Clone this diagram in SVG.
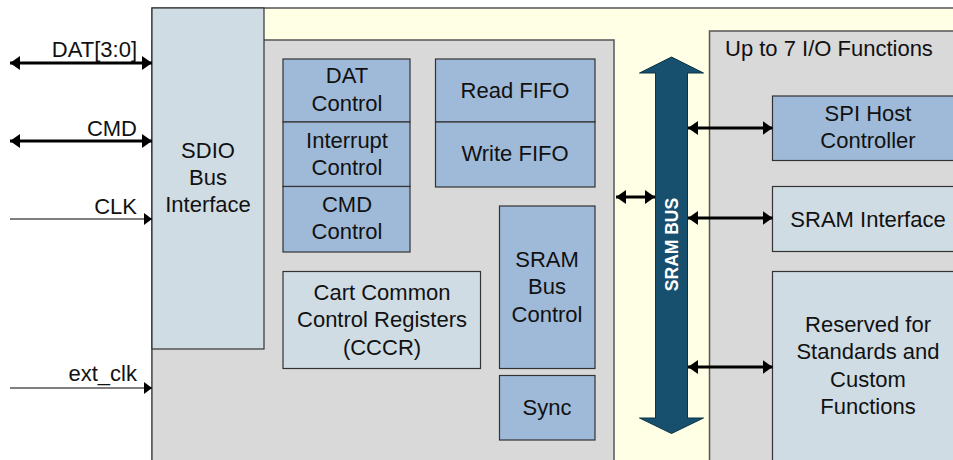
<svg xmlns="http://www.w3.org/2000/svg" width="953" height="460" viewBox="0 0 953 460">
<style>
text{font-family:"Liberation Sans",Arial,sans-serif;font-size:22px;fill:#111;text-anchor:middle}
.lbl{text-anchor:end}
.blk{stroke:#333;stroke-width:1.2}
.dk{fill:#9FBAD8}
.lt{fill:#D0DCE4}
.gr{fill:#D9D9D9;stroke:#555;stroke-width:1.5}
.thick{stroke:#000;stroke-width:3;fill:none}
.thin{stroke:#000;stroke-width:1.2;fill:none}
</style>
<defs>
<marker id="ah" viewBox="0 0 10 14" refX="10" refY="7" markerWidth="10" markerHeight="14" markerUnits="userSpaceOnUse" orient="auto-start-reverse"><path d="M0,0 L10,7 L0,14 Z" fill="#000"/></marker>
<marker id="as" viewBox="0 0 8 12" refX="8" refY="6" markerWidth="8" markerHeight="12" markerUnits="userSpaceOnUse" orient="auto"><path d="M0,0 L8,6 L0,12 Z" fill="#000"/></marker>
</defs>
<rect width="953" height="460" fill="#fff"/>
<g id="card">
<rect x="152" y="8" width="820" height="470" fill="#FFFFE5" stroke="#555" stroke-width="1.5"/>
</g>
<g id="core">
<rect class="gr" x="152" y="40" width="462" height="440"/>
</g>
<g id="sdio">
<rect class="blk lt" x="152" y="8" width="112" height="341"/>
<text x="208" y="158">SDIO</text><text x="208" y="185">Bus</text><text x="208" y="212">Interface</text>
</g>
<g id="dat-control">
<rect class="blk dk" x="283" y="59" width="127" height="63"/>
<text x="347" y="83">DAT</text><text x="347" y="111">Control</text>
</g>
<g id="int-control">
<rect class="blk dk" x="283" y="122" width="127" height="64.5"/>
<text x="347" y="148">Interrupt</text><text x="347" y="175">Control</text>
</g>
<g id="cmd-control">
<rect class="blk dk" x="283" y="186.5" width="127" height="65.5"/>
<text x="347" y="212">CMD</text><text x="347" y="239">Control</text>
</g>
<g id="read-fifo">
<rect class="blk dk" x="435.5" y="59" width="159.5" height="63"/>
<text x="515" y="98">Read FIFO</text>
</g>
<g id="write-fifo">
<rect class="blk dk" x="435.5" y="122" width="159.5" height="65"/>
<text x="515" y="161">Write FIFO</text>
</g>
<g id="cccr">
<rect class="blk lt" x="283" y="271.5" width="197.5" height="97"/>
<text x="382" y="300">Cart Common</text><text x="382" y="327">Control Registers</text><text x="382" y="355">(CCCR)</text>
</g>
<g id="sram-bus-control">
<rect class="blk dk" x="499.5" y="206" width="95.5" height="162.5"/>
<text x="547" y="267">SRAM</text><text x="547" y="294">Bus</text><text x="547" y="322">Control</text>
</g>
<g id="sync">
<rect class="blk dk" x="499.5" y="375.5" width="95.5" height="64.5"/>
<text x="547" y="415">Sync</text>
</g>
<g id="io-functions">
<rect class="gr" x="709.5" y="31" width="260" height="450"/>
<text x="725" y="56" style="text-anchor:start">Up to 7 I/O Functions</text>
</g>
<g id="spi-host">
<rect class="blk dk" x="772.5" y="96" width="200" height="64.5"/>
<text x="868" y="121">SPI Host</text><text x="868" y="148">Controller</text>
</g>
<g id="sram-interface">
<rect class="blk lt" x="772.5" y="186.5" width="200" height="65"/>
<text x="868" y="227">SRAM Interface</text>
</g>
<g id="reserved">
<rect class="blk lt" x="772.5" y="271.5" width="200" height="210"/>
<text x="868" y="332">Reserved for</text><text x="868" y="359">Standards and</text><text x="868" y="387">Custom</text><text x="868" y="414">Functions</text>
</g>
<g id="sram-bus">
<path d="M671.5,57 L703.5,73 L687.5,73 L687.5,418 L703.5,418 L671.5,433.5 L639.5,418 L655.5,418 L655.5,73 L639.5,73 Z" fill="#17506F" stroke="#0d3347" stroke-width="1"/>
<text transform="translate(677.5,244.5) rotate(-90)" style="fill:#fff;font-weight:bold;font-size:17.5px">SRAM BUS</text>
</g>
<g id="connectors">
<line class="thick" x1="10" y1="63" x2="152" y2="63" marker-start="url(#ah)" marker-end="url(#ah)"/>
<line class="thick" x1="10" y1="141" x2="152" y2="141" marker-start="url(#ah)" marker-end="url(#ah)"/>
<line class="thin" x1="10" y1="219" x2="152" y2="219" marker-end="url(#as)"/>
<line class="thin" x1="10" y1="388" x2="152" y2="388" marker-end="url(#as)"/>
<line class="thick" x1="616" y1="197" x2="655" y2="197" marker-start="url(#ah)" marker-end="url(#ah)"/>
<line class="thick" x1="688" y1="128" x2="772.5" y2="128" marker-start="url(#ah)" marker-end="url(#ah)"/>
<line class="thick" x1="688" y1="218" x2="772.5" y2="218" marker-start="url(#ah)" marker-end="url(#ah)"/>
<line class="thick" x1="688" y1="367" x2="772.5" y2="367" marker-start="url(#ah)" marker-end="url(#ah)"/>
<text class="lbl" x="137" y="57">DAT[3:0]</text>
<text class="lbl" x="137" y="136">CMD</text>
<text class="lbl" x="137" y="214">CLK</text>
<text class="lbl" x="137" y="381">ext_clk</text>
</g>
</svg>
